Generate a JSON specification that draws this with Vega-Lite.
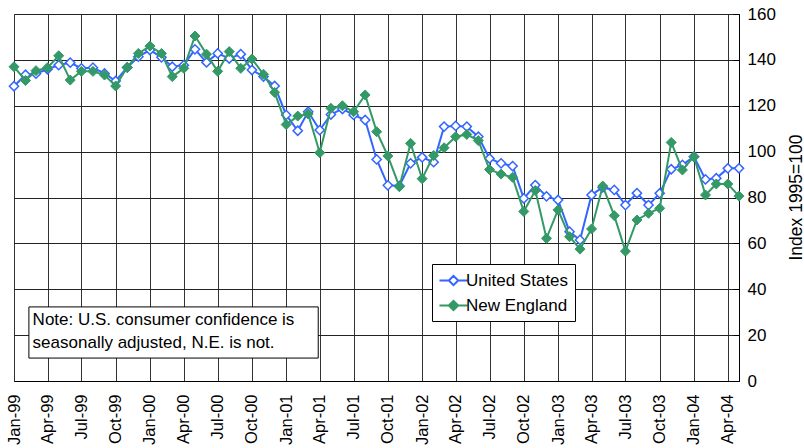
{
  "$schema": "https://vega.github.io/schema/vega-lite/v6.json",
  "width": 725,
  "height": 367,
  "autosize": "none",
  "padding": {"left": 14, "top": 14, "right": 65, "bottom": 67},
  "background": "white",
  "config": {
    "font": "Liberation Sans",
    "view": {"stroke": "#808080", "strokeWidth": 1},
    "axisX": {
      "labelAngle": 270, "labelFontSize": 16.5, "labelColor": "black", "labelPadding": 13,
      "labelFlush": false, "labelOverlap": false,
      "ticks": false, "domainColor": "black", "domainWidth": 1,
      "grid": true, "gridColor": "#333333", "gridWidth": 1, "gridOpacity": 1
    },
    "axisY": {
      "labelFontSize": 17, "labelColor": "black", "labelPadding": 14, "labelFlush": false,
      "ticks": true, "tickSize": -6, "tickColor": "black", "tickWidth": 1,
      "domainColor": "black", "domainWidth": 1,
      "grid": true, "gridColor": "#222222", "gridWidth": 1, "gridOpacity": 1,
      "titleFontSize": 17.5, "titleFontWeight": "normal", "titleColor": "black"
    }
  },
  "datasets": {
    "conf": [
      {"month": "1999-01-01", "United States": 128.5, "New England": 137.0},
      {"month": "1999-02-01", "United States": 133.5, "New England": 131.0},
      {"month": "1999-03-01", "United States": 134.0, "New England": 135.3},
      {"month": "1999-04-01", "United States": 135.9, "New England": 136.6},
      {"month": "1999-05-01", "United States": 137.7, "New England": 141.8},
      {"month": "1999-06-01", "United States": 138.8, "New England": 131.2},
      {"month": "1999-07-01", "United States": 136.3, "New England": 135.0},
      {"month": "1999-08-01", "United States": 136.6, "New England": 135.0},
      {"month": "1999-09-01", "United States": 134.1, "New England": 133.4},
      {"month": "1999-10-01", "United States": 130.8, "New England": 128.6},
      {"month": "1999-11-01", "United States": 136.7, "New England": 136.7},
      {"month": "1999-12-01", "United States": 141.4, "New England": 142.8},
      {"month": "2000-01-01", "United States": 144.3, "New England": 146.0},
      {"month": "2000-02-01", "United States": 141.1, "New England": 142.8},
      {"month": "2000-03-01", "United States": 137.0, "New England": 132.7},
      {"month": "2000-04-01", "United States": 137.7, "New England": 136.3},
      {"month": "2000-05-01", "United States": 144.6, "New England": 150.4},
      {"month": "2000-06-01", "United States": 138.9, "New England": 142.5},
      {"month": "2000-07-01", "United States": 142.8, "New England": 135.0},
      {"month": "2000-08-01", "United States": 140.6, "New England": 143.6},
      {"month": "2000-09-01", "United States": 142.5, "New England": 136.3},
      {"month": "2000-10-01", "United States": 135.6, "New England": 140.4},
      {"month": "2000-11-01", "United States": 132.7, "New England": 133.7},
      {"month": "2000-12-01", "United States": 128.6, "New England": 125.8},
      {"month": "2001-01-01", "United States": 116.0, "New England": 111.8},
      {"month": "2001-02-01", "United States": 109.1, "New England": 115.5},
      {"month": "2001-03-01", "United States": 117.4, "New England": 116.4},
      {"month": "2001-04-01", "United States": 109.4, "New England": 99.5},
      {"month": "2001-05-01", "United States": 116.2, "New England": 118.9},
      {"month": "2001-06-01", "United States": 118.6, "New England": 120.0},
      {"month": "2001-07-01", "United States": 116.0, "New England": 117.4},
      {"month": "2001-08-01", "United States": 113.8, "New England": 124.7},
      {"month": "2001-09-01", "United States": 96.6, "New England": 108.7},
      {"month": "2001-10-01", "United States": 85.3, "New England": 98.1},
      {"month": "2001-11-01", "United States": 85.0, "New England": 84.7},
      {"month": "2001-12-01", "United States": 94.9, "New England": 103.6},
      {"month": "2002-01-01", "United States": 97.5, "New England": 88.2},
      {"month": "2002-02-01", "United States": 95.4, "New England": 98.3},
      {"month": "2002-03-01", "United States": 110.9, "New England": 101.7},
      {"month": "2002-04-01", "United States": 111.2, "New England": 106.5},
      {"month": "2002-05-01", "United States": 110.9, "New England": 107.5},
      {"month": "2002-06-01", "United States": 106.5, "New England": 104.8},
      {"month": "2002-07-01", "United States": 97.0, "New England": 92.2},
      {"month": "2002-08-01", "United States": 94.9, "New England": 90.2},
      {"month": "2002-09-01", "United States": 93.7, "New England": 88.8},
      {"month": "2002-10-01", "United States": 79.6, "New England": 73.9},
      {"month": "2002-11-01", "United States": 85.4, "New England": 83.0},
      {"month": "2002-12-01", "United States": 80.5, "New England": 62.2},
      {"month": "2003-01-01", "United States": 78.9, "New England": 74.6},
      {"month": "2003-02-01", "United States": 65.1, "New England": 62.9},
      {"month": "2003-03-01", "United States": 61.5, "New England": 57.5},
      {"month": "2003-04-01", "United States": 81.1, "New England": 66.3},
      {"month": "2003-05-01", "United States": 84.4, "New England": 85.0},
      {"month": "2003-06-01", "United States": 83.3, "New England": 72.1},
      {"month": "2003-07-01", "United States": 76.7, "New England": 56.6},
      {"month": "2003-08-01", "United States": 81.9, "New England": 70.2},
      {"month": "2003-09-01", "United States": 76.7, "New England": 73.1},
      {"month": "2003-10-01", "United States": 81.8, "New England": 75.3},
      {"month": "2003-11-01", "United States": 92.3, "New England": 104.0},
      {"month": "2003-12-01", "United States": 94.2, "New England": 92.0},
      {"month": "2004-01-01", "United States": 97.8, "New England": 97.8},
      {"month": "2004-02-01", "United States": 87.9, "New England": 81.1},
      {"month": "2004-03-01", "United States": 88.4, "New England": 85.9},
      {"month": "2004-04-01", "United States": 92.7, "New England": 85.9},
      {"month": "2004-05-01", "United States": 92.7, "New England": 80.6}
    ],
    "notebox": [
      {"x1": "1999-02-10", "x2": "2001-03-28", "y1": 10.0, "y2": 32.3}
    ],
    "note": [
      {"x": "1999-02-20", "y": 26.6, "text": "Note: U.S. consumer confidence is"},
      {"x": "1999-02-20", "y": 16.6, "text": "seasonally adjusted, N.E. is not."}
    ]
  },
  "layer": [
    {
      "data": {"name": "notebox"},
      "mark": {"type": "rect", "fill": "white", "stroke": "black", "strokeWidth": 1},
      "encoding": {
        "x": {
          "field": "x1", "type": "temporal",
          "scale": {"type": "utc", "domain": [{"year": 1999, "month": 1, "date": 1, "utc": true}, {"year": 2004, "month": 5, "date": 1, "utc": true}]},
          "axis": {
            "title": null, "orient": "bottom",
            "tickCount": {"interval": "month", "step": 3},
            "labelExpr": "utcFormat(datum.value, '%b-%y')"
          }
        },
        "x2": {"field": "x2"},
        "y": {
          "field": "y1", "type": "quantitative",
          "scale": {"domain": [0, 160], "nice": false},
          "axis": {
            "title": "Index 1995=100", "orient": "right", "values": [0, 20, 40, 60, 80, 100, 120, 140, 160],
            "titleAngle": 270, "titleX": 57, "titleY": 183, "titleAlign": "center", "titleBaseline": "middle"
          }
        },
        "y2": {"field": "y2"}
      }
    },
    {
      "data": {"name": "note"},
      "mark": {"type": "text", "align": "left", "baseline": "middle", "fontSize": 17, "color": "black"},
      "encoding": {
        "x": {"field": "x", "type": "temporal"},
        "y": {"field": "y", "type": "quantitative"},
        "text": {"field": "text"}
      }
    },
    {
      "data": {"name": "conf"},
      "transform": [
        {"fold": ["United States", "New England"], "as": ["series", "value"]},
        {"filter": "datum.series === 'United States'"}
      ],
      "mark": {"type": "line", "strokeWidth": 2},
      "encoding": {
        "x": {"field": "month", "type": "temporal"},
        "y": {"field": "value", "type": "quantitative"},
        "color": {
          "field": "series", "type": "nominal",
          "scale": {"domain": ["United States", "New England"], "range": ["#3366ff", "#339966"]},
          "legend": {
            "title": null, "orient": "none", "legendX": 418, "legendY": 250,
            "strokeColor": "black", "fillColor": "white", "padding": 6,
            "labelFontSize": 17, "labelColor": "black", "rowPadding": 5,
            "symbolType": "M-1.5,0H-0.5M0.5,0H1.5M-0.5,0L0,-0.5L0.5,0L0,0.5Z",
            "symbolSize": 350, "symbolStrokeWidth": 2, "symbolOffset": 5, "labelOffset": 2,
            "encode": {"symbols": {"update": {"fill": {"signal": "datum.value === 'United States' ? 'white' : '#339966'"}, "opacity": {"value": 1}}}}
          }
        }
      }
    },
    {
      "data": {"name": "conf"},
      "transform": [
        {"fold": ["United States", "New England"], "as": ["series", "value"]},
        {"filter": "datum.series === 'United States'"}
      ],
      "mark": {"type": "point", "shape": "diamond", "filled": true, "fill": "white", "stroke": "#3366ff", "strokeWidth": 1.5, "size": 85, "opacity": 1},
      "encoding": {
        "x": {"field": "month", "type": "temporal"},
        "y": {"field": "value", "type": "quantitative"}
      }
    },
    {
      "data": {"name": "conf"},
      "transform": [
        {"fold": ["United States", "New England"], "as": ["series", "value"]},
        {"filter": "datum.series === 'New England'"}
      ],
      "mark": {"type": "line", "strokeWidth": 2},
      "encoding": {
        "x": {"field": "month", "type": "temporal"},
        "y": {"field": "value", "type": "quantitative"},
        "color": {
          "field": "series", "type": "nominal",
          "scale": {"domain": ["United States", "New England"], "range": ["#3366ff", "#339966"]},
          "legend": {
            "title": null, "orient": "none", "legendX": 418, "legendY": 250,
            "strokeColor": "black", "fillColor": "white", "padding": 6,
            "labelFontSize": 17, "labelColor": "black", "rowPadding": 5,
            "symbolType": "M-1.5,0H-0.5M0.5,0H1.5M-0.5,0L0,-0.5L0.5,0L0,0.5Z",
            "symbolSize": 350, "symbolStrokeWidth": 2, "symbolOffset": 5, "labelOffset": 2,
            "encode": {"symbols": {"update": {"fill": {"signal": "datum.value === 'United States' ? 'white' : '#339966'"}, "opacity": {"value": 1}}}}
          }
        }
      }
    },
    {
      "data": {"name": "conf"},
      "transform": [
        {"fold": ["United States", "New England"], "as": ["series", "value"]},
        {"filter": "datum.series === 'New England'"}
      ],
      "mark": {"type": "point", "shape": "diamond", "filled": true, "fill": "#339966", "stroke": "#339966", "strokeWidth": 1, "size": 100, "opacity": 1},
      "encoding": {
        "x": {"field": "month", "type": "temporal"},
        "y": {"field": "value", "type": "quantitative"}
      }
    }
  ]
}
